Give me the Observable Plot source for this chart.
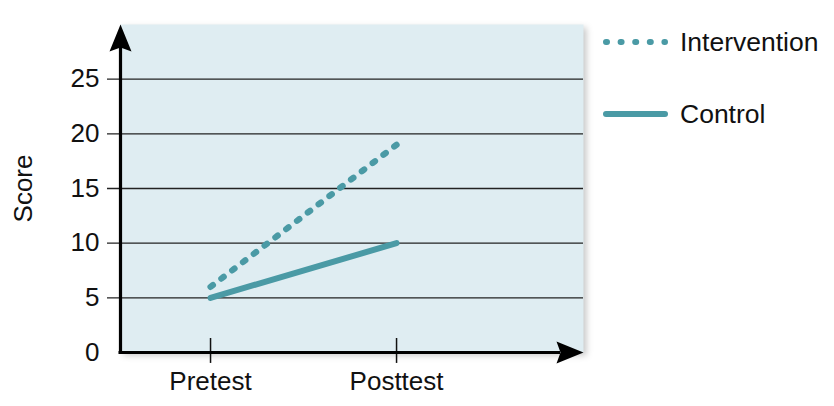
<!DOCTYPE html>
<html>
<head>
<meta charset="utf-8">
<script src="https://cdn.jsdelivr.net/npm/d3@7"></script>
<script src="https://cdn.jsdelivr.net/npm/@observablehq/plot@0.6"></script>
<style>
  html, body { margin: 0; padding: 0; background: #fff; }
  #wrap { position: relative; width: 834px; height: 406px; font-family: "Liberation Sans", Arial, Helvetica, sans-serif; }
  #legend { position: absolute; left: 0; top: 0; }
</style>
</head>
<body>
<div id="wrap"></div>
<script>
// ---- data ----
const categories = ["Pretest", "Posttest"];
const seriesNames = ["Intervention", "Control"];
const interventionValues = [6, 19];
const controlValues = [5, 10];
const yTicks = [0, 5, 10, 15, 20, 25];

const teal = "#4a9aa5";
const bg = "#dfedf2";
const font = '"Liberation Sans", Arial, Helvetica, sans-serif';

const rows = [];
categories.forEach((c, i) => {
  rows.push({series: "Intervention", x: i, y: interventionValues[i]});
  rows.push({series: "Control", x: i, y: controlValues[i]});
});

const xmin = -0.484, xmax = 2.005;
const pxPerX = 186;

const upArrow = {
  draw(ctx) {
    ctx.moveTo(0, 0);
    ctx.lineTo(11, 27);
    ctx.lineTo(0, 23);
    ctx.lineTo(-11, 27);
    ctx.closePath();
  }
};
const rightArrow = {
  draw(ctx) {
    ctx.moveTo(0, 0);
    ctx.lineTo(-27, -11);
    ctx.lineTo(-23, 0);
    ctx.lineTo(-27, 11);
    ctx.closePath();
  }
};

const chart = Plot.plot({
  width: 834,
  height: 406,
  marginLeft: 120,
  marginRight: 251,
  marginTop: 24,
  marginBottom: 54,
  style: {fontFamily: font, fontSize: "24px", color: "#111", background: "transparent", overflow: "visible"},
  x: {domain: [xmin, xmax]},
  y: {domain: [0, 30]},
  marks: [
    Plot.frame({fill: bg, stroke: null}),
    Plot.ruleY(yTicks.filter(d => d > 0), {x1: xmin - 13 / pxPerX, x2: xmax, stroke: "#222", strokeWidth: 1.3}),
    Plot.axisY({ticks: yTicks, tickSize: 0, tickPadding: 21, label: null, fontSize: 26, fill: "#111"}),
    Plot.axisX({ticks: [0, 1], tickFormat: i => categories[i], tickSize: 0, tickPadding: 19, label: null, fontSize: 26, fill: "#111"}),
    Plot.ruleX([0, 1], {y1: -1.0, y2: 1.28, stroke: "#111", strokeWidth: 1.5}),
    Plot.line(rows.filter(d => d.series === "Control"), {x: "x", y: "y", stroke: teal, strokeWidth: 6, strokeLinecap: "round"}),
    Plot.line(rows.filter(d => d.series === "Intervention"), {x: "x", y: "y", stroke: teal, strokeWidth: 6.2, strokeLinecap: "round", strokeDasharray: "3 10.6"}),
    Plot.ruleX([xmin], {y1: -0.14, y2: 28, stroke: "#000", strokeWidth: 3.2}),
    Plot.ruleY([0], {x1: xmin - 0.008, x2: xmax - 23 / pxPerX, stroke: "#000", strokeWidth: 3.2}),
    Plot.dot([{x: xmin, y: 30}], {x: "x", y: "y", r: 5, symbol: upArrow, fill: "#000", stroke: null}),
    Plot.dot([{x: xmax, y: 0}], {x: "x", y: "y", r: 5, symbol: rightArrow, fill: "#000", stroke: null}),
    Plot.text(["Score"], {frameAnchor: "left", textAnchor: "middle", text: d => d, rotate: -90, dx: -97, fontSize: 26, fill: "#111"})
  ]
});

const frameEl = chart.querySelector('[aria-label="frame"]');
if (frameEl) frameEl.style.filter = "drop-shadow(3px 3px 3px rgba(0,0,0,0.22))";

const wrap = document.getElementById("wrap");
wrap.appendChild(chart);

// legend
const ns = "http://www.w3.org/2000/svg";
const leg = document.createElementNS(ns, "svg");
leg.setAttribute("id", "legend");
leg.setAttribute("width", 834);
leg.setAttribute("height", 406);
const legendY = [42, 114];
seriesNames.forEach((name, i) => {
  const l = document.createElementNS(ns, "line");
  l.setAttribute("x1", 606); l.setAttribute("x2", 665);
  l.setAttribute("y1", legendY[i]); l.setAttribute("y2", legendY[i]);
  l.setAttribute("stroke", teal);
  l.setAttribute("stroke-width", 6);
  l.setAttribute("stroke-linecap", "round");
  if (name === "Intervention") l.setAttribute("stroke-dasharray", "1 13.6");
  leg.appendChild(l);
  const t = document.createElementNS(ns, "text");
  t.setAttribute("x", 680);
  t.setAttribute("y", legendY[i]);
  t.setAttribute("dy", "0.35em");
  t.setAttribute("font-size", 26.5);
  t.setAttribute("font-family", font);
  t.setAttribute("fill", "#111");
  t.textContent = name;
  leg.appendChild(t);
});
wrap.appendChild(leg);
</script>
</body>
</html>
